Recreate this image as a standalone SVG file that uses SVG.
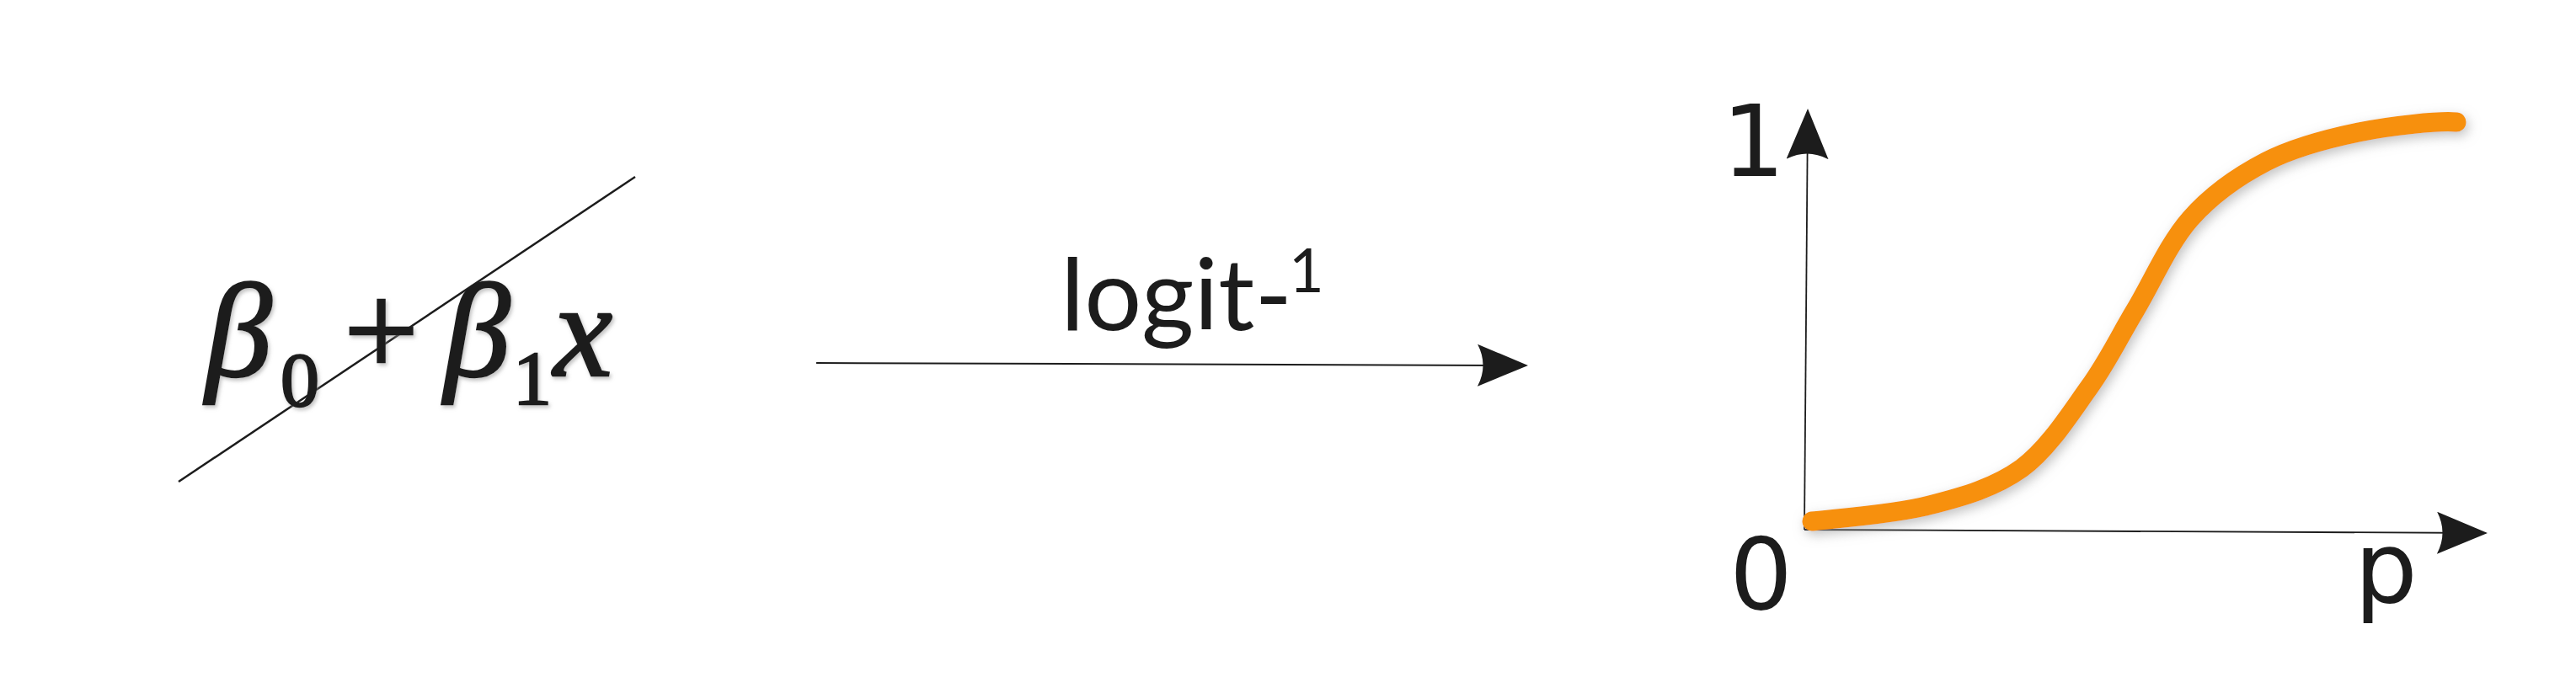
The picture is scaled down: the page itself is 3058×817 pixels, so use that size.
<svg xmlns="http://www.w3.org/2000/svg" width="3058" height="817" viewBox="0 0 3058 817">
<style>
.ln{stroke:#1c1c1c;fill:none}
.math{font-family:"Liberation Serif","Times New Roman",serif;fill:#1c1c1c;stroke:#1c1c1c;stroke-width:2.5}
.it{font-style:italic}
.up{font-style:normal}
.lbl{font-family:"DejaVu Sans",Verdana,sans-serif;font-size:118px;fill:#1c1c1c}
.fn{font-family:Lato,"Open Sans",sans-serif;fill:#1c1c1c}
</style>
<defs>
<marker id="ah" viewBox="0 0 60 50" refX="58" refY="25" markerWidth="60" markerHeight="50" markerUnits="userSpaceOnUse" orient="auto">
<path d="M0,0 L60,25 L0,50 Q13,25 0,0 Z" fill="#1c1c1c"/>
</marker>
<filter id="sh" x="-10%" y="-10%" width="120%" height="120%">
<feDropShadow dx="3" dy="5" stdDeviation="7" flood-color="#9a9a9a" flood-opacity="0.6"/>
</filter>
<filter id="tsh" x="-10%" y="-10%" width="120%" height="120%">
<feDropShadow dx="2" dy="3" stdDeviation="2" flood-color="#888" flood-opacity="0.5"/>
</filter>
</defs>
<rect width="3058" height="817" fill="#ffffff"/>

<g id="formula">
<line class="ln" x1="212" y1="572" x2="754" y2="210" stroke-width="2.5"/>
<text class="math" filter="url(#tsh)" x="244" y="446" font-size="158"><tspan class="it">β</tspan><tspan class="up" x="333" y="482" font-size="92">0</tspan><tspan class="up" x="408" y="446">+</tspan><tspan class="it" x="527" y="446">β</tspan><tspan class="up" x="609" y="480" font-size="92">1</tspan><tspan class="it" x="657" y="446">x</tspan></text>
</g>

<g id="connectors">
<line class="ln" x1="969" y1="431" x2="1812" y2="434" stroke-width="2" marker-end="url(#ah)"/>
</g>

<g id="label-logit">
<text class="fn" x="1259" y="392"><tspan font-size="118" textLength="275" lengthAdjust="spacingAndGlyphs">logit-</tspan><tspan dx="-4" dy="-45" font-size="72">1</tspan></text>
</g>

<g id="graph">
<line class="ln" x1="2142" y1="629" x2="2146" y2="131" stroke-width="1.8" marker-end="url(#ah)"/>
<line class="ln" x1="2142" y1="629" x2="2951" y2="633" stroke-width="1.8" marker-end="url(#ah)"/>
<path d="M2151,619 C2174,616 2249,611 2290,600 C2331.5,589.5 2368,579 2400,556 C2431.7,532.7 2457.5,491.3 2480,460 C2502.5,428.7 2515,401.3 2535,368 C2555,334.7 2574.2,289.3 2600,260 C2625.8,230.7 2656.7,209.2 2690,192 C2723.3,174.8 2762.3,164.8 2800,157 C2837.7,149.2 2896.7,143 2916,145" fill="none" stroke="#F7900A" stroke-width="23" stroke-linecap="round" filter="url(#sh)"/>
<text class="lbl" x="2044" y="209">1</text>
<text class="lbl" x="2053" y="723">0</text>
<text class="lbl" x="2795" y="715">p</text>
</g>
</svg>
